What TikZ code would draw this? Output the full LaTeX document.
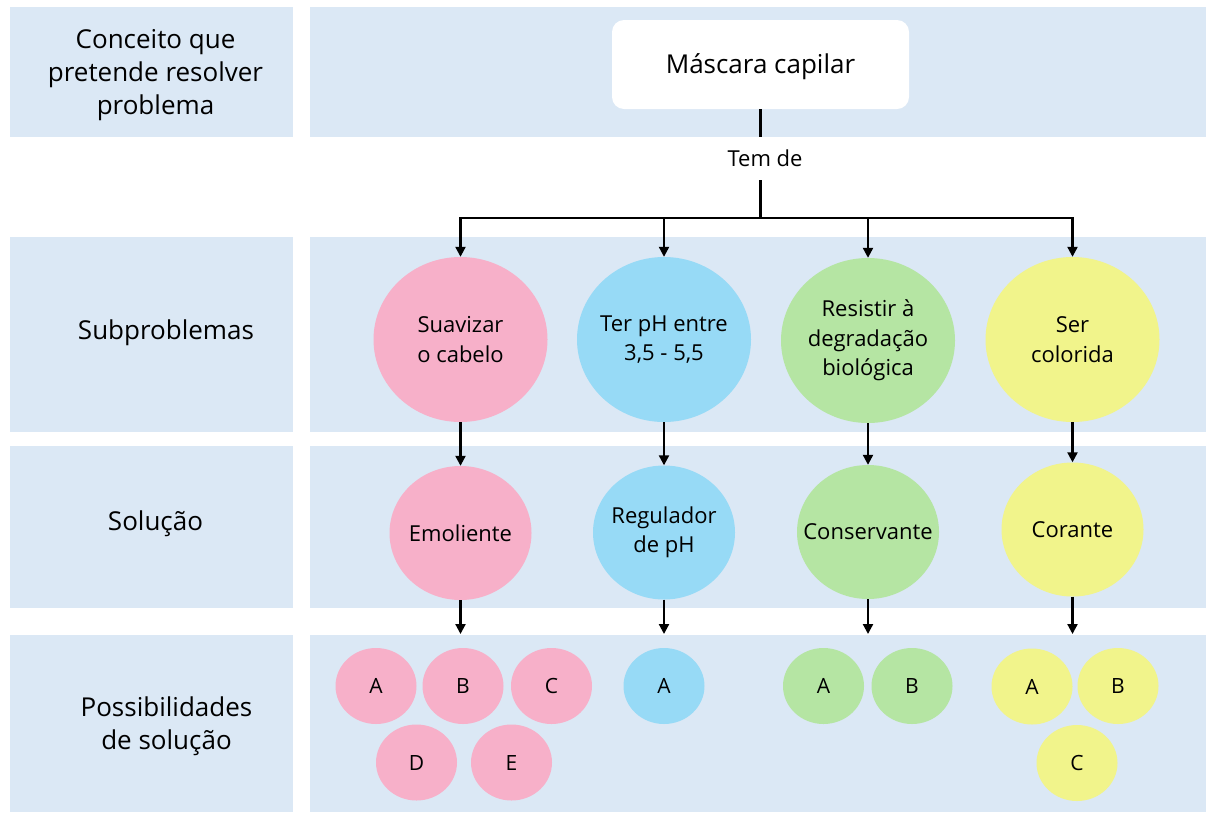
\documentclass[tikz,border=0pt]{standalone}
\usepackage{fontspec}
\setmainfont{Open Sans}
\usetikzlibrary{shapes.geometric,arrows.meta}
\definecolor{panel}{RGB}{219,232,245}
\definecolor{pinkc}{RGB}{247,176,201}
\definecolor{bluec}{RGB}{151,218,246}
\definecolor{greenc}{RGB}{181,229,163}
\definecolor{yellowc}{RGB}{241,244,139}
\begin{document}
\begin{tikzpicture}[x=1pt,y=-1pt,
  rowlabel/.style={align=center,inner sep=0pt,font=\fontsize{26}{33}\selectfont},
  bigc/.style={ellipse,inner xsep=-40pt,inner ysep=0pt,minimum width=174pt,minimum height=165pt,
    align=center,font=\fontsize{22}{29.5}\selectfont},
  midc/.style={ellipse,inner xsep=-40pt,inner ysep=0pt,minimum width=142pt,minimum height=134pt,
    align=center,font=\fontsize{22}{29.5}\selectfont},
  smallc/.style={ellipse,inner sep=0pt,minimum width=81pt,minimum height=76pt,
    font=\fontsize{21}{24}\selectfont},
  link/.style={line width=2.2pt},
  arr/.style={link,-{Triangle[length=10pt,width=10pt]}}
]
\useasboundingbox (0,0) rectangle (1206,812);
\fill[white] (0,0) rectangle (1206,812);

% row bands: label column and content column
\fill[panel] (10,7) rectangle (293,137);
\fill[panel] (310,7) rectangle (1206,137);
\fill[panel] (10,237) rectangle (293,432);
\fill[panel] (310,237) rectangle (1206,432);
\fill[panel] (10,446) rectangle (293,608);
\fill[panel] (310,446) rectangle (1206,608);
\fill[panel] (10,635) rectangle (293,812);
\fill[panel] (310,635) rectangle (1206,812);

% row labels
\node[rowlabel] (l1) at (155.5,75) {Conceito que\\pretende resolver\\problema};
\node[rowlabel] (l2) at (166,333) {Subproblemas};
\node[rowlabel] (l3) at (155.5,524) {Solução};
\node[rowlabel] (l4) at (166.5,726) {Possibilidades\\de solução};

% concept
\node[fill=white,rounded corners=12pt,minimum width=297pt,minimum height=89pt,
  text height=22pt,text depth=5pt,
  font=\fontsize{26}{30}\selectfont] (mask) at (760.5,64.5) {Máscara capilar};
\node[inner sep=0pt,minimum height=43pt,font=\fontsize{22}{26}\selectfont] (tem) at (765,158.5) {Tem de};
\coordinate (hub) at (760.5,218);

% subproblems
\node[bigc,fill=pinkc] (s1) at (460.5,339.5) {Suavizar\\o cabelo};
\node[bigc,fill=bluec] (s2) at (664,339.5) {Ter pH entre\\3,5 - 5,5};
\node[bigc,fill=greenc] (s3) at (868,340.5) {Resistir à\\degradação\\biológica};
\node[bigc,fill=yellowc] (s4) at (1072.5,339.5) {Ser\\colorida};

% solutions
\node[midc,fill=pinkc] (c1) at (460.5,533) {Emoliente};
\node[midc,fill=bluec] (c2) at (664,532.5) {Regulador\\de pH};
\node[midc,fill=greenc] (c3) at (868,532) {Conservante};
\node[midc,fill=yellowc] (c4) at (1072.5,529.5) {Corante};

% possibilities
\node[smallc,fill=pinkc] (pa) at (376,686) {A};
\node[smallc,fill=pinkc] (pb) at (463,686) {B};
\node[smallc,fill=pinkc] (pc) at (551.5,686) {C};
\node[smallc,fill=pinkc] (pd) at (416.5,762.5) {D};
\node[smallc,fill=pinkc] (pe) at (511.5,762.5) {E};
\node[smallc,fill=bluec] (ba) at (664,686) {A};
\node[smallc,fill=greenc] (ga) at (823.5,686) {A};
\node[smallc,fill=greenc] (gb) at (912,686) {B};
\node[smallc,fill=yellowc] (ya) at (1032,686.5) {A};
\node[smallc,fill=yellowc] (yb) at (1118,686) {B};
\node[smallc,fill=yellowc] (yc) at (1077,763) {C};

% free ends of the last arrows
\coordinate (e1) at (460.5,634);
\coordinate (e2) at (664,634);
\coordinate (e3) at (868,634);
\coordinate (e4) at (1072.5,634);

% connectors
\draw[link] (mask.south) -- (mask.south |- tem.north);
\draw[link] (mask.south |- tem.south) -- (hub);
\draw[arr] (hub) -| (s1.north);
\draw[arr] (hub) -| (s2.north);
\draw[arr] (hub) -| (s3.north);
\draw[arr] (hub) -| (s4.north);
\draw[arr] (s1.south) -- (c1.north);
\draw[arr] (s2.south) -- (c2.north);
\draw[arr] (s3.south) -- (c3.north);
\draw[arr] (s4.south) -- (c4.north);
\draw[arr] (c1.south) -- (e1);
\draw[arr] (c2.south) -- (e2);
\draw[arr] (c3.south) -- (e3);
\draw[arr] (c4.south) -- (e4);
\end{tikzpicture}
\end{document}
